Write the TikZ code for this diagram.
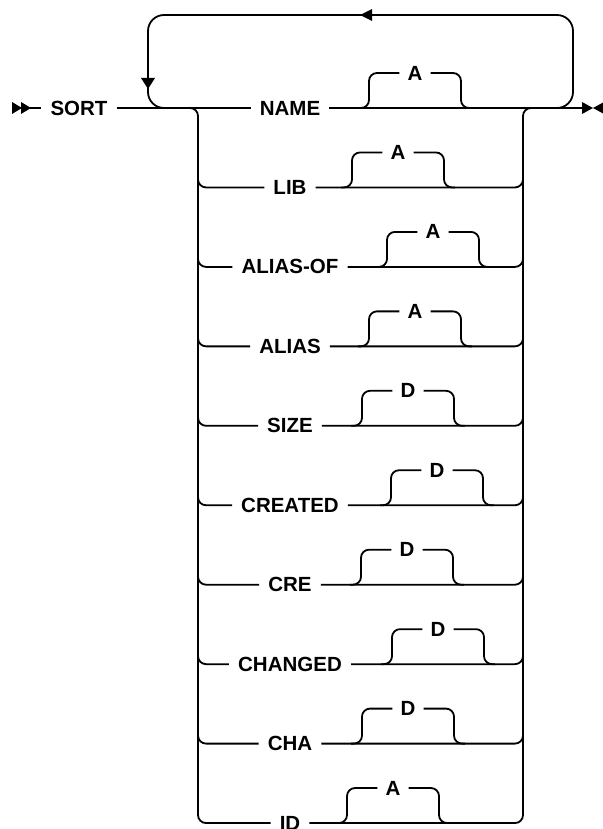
\documentclass[tikz,border=0pt]{standalone}
\usepackage{fontspec}
\setmainfont{Liberation Sans}
\begin{document}
\begin{tikzpicture}[x=1pt,y=-1pt,
  rr/.style={line width=1.8pt},
  barline/.style={line width=2.6pt},
  lbl/.style={font=\bfseries\fontsize{20.5}{24}\selectfont, inner xsep=9pt, inner ysep=0pt},
  opt/.style={font=\bfseries\fontsize{20.5}{24}\selectfont, inner xsep=8pt, inner ysep=0pt},
  tri/.style={fill=black, draw=none}]
\useasboundingbox (0,0) rectangle (602,829);

% start marker
\fill[tri] (12,102) -- (12,114) -- (22,108) -- cycle;
\fill[tri] (21,102) -- (21,114) -- (31,108) -- cycle;
\coordinate (st) at (30,108);
\node[lbl] (sort) at (79,108) {SORT};
\draw[rr] (st) -- (sort.west);

% end marker
\coordinate (en) at (583,108);
\fill[tri] (582,102) -- (582,114) -- (593,108) -- cycle;
\fill[tri] (604,102) -- (604,114) -- (593,108) -- cycle;

% repeat loop
\coordinate (rj) at (557,108);
\coordinate (lj) at (180,108);
\draw[rr, rounded corners=16] (rj) -- (573,108) -- (573,15) -- (148,15) -- (148,108) -- (lj);
\fill[tri] (141,78) -- (155,78) -- (148,89) -- cycle;
\fill[tri] (372,9) -- (372,21) -- (360,15) -- cycle;

% branches
\foreach \i/\lab/\xo/\ltr in {0/NAME/362/A, 1/LIB/345/A, 2/ALIAS-OF/380/A, 3/ALIAS/362/A,
  4/SIZE/355/D, 5/CREATED/384/D, 6/CRE/354/D, 7/CHANGED/385/D, 8/CHA/355/D, 9/ID/340/A} {
  \pgfmathsetmacro\yy{108+\i*79.45}
  \node[lbl] (b\i) at (290,\yy) {\lab};
  \node[opt] (o\i) at (\xo+53,\yy-35) {\ltr};
  \draw[rr, rounded corners=8] (\xo-4,\yy) -- (\xo+7,\yy) -- (\xo+7,\yy-35) -- (o\i.west);
  \draw[rr, rounded corners=8] (o\i.east) -- (\xo+99,\yy-35) -- (\xo+99,\yy) -- (\xo+110,\yy);
  \ifnum\i>0
    \draw[rr, rounded corners=8] (198,\yy-20) -- (198,\yy) -- (b\i.west);
    \draw[rr, rounded corners=8] (b\i.east) -- (523,\yy) -- (523,\yy-20);
  \fi
}

% main line
\draw[rr] (sort.east) -- (b0.west);
\draw[rr] (b0.east) -- (en);

% bars
\draw[rr, rounded corners=8] (182,108) -- (198,108) -- (198,124);
\draw[rr, rounded corners=8] (539,108) -- (523,108) -- (523,124);
\draw[barline] (198,116) -- (198,815);
\draw[barline] (523,116) -- (523,815);
\end{tikzpicture}
\end{document}
